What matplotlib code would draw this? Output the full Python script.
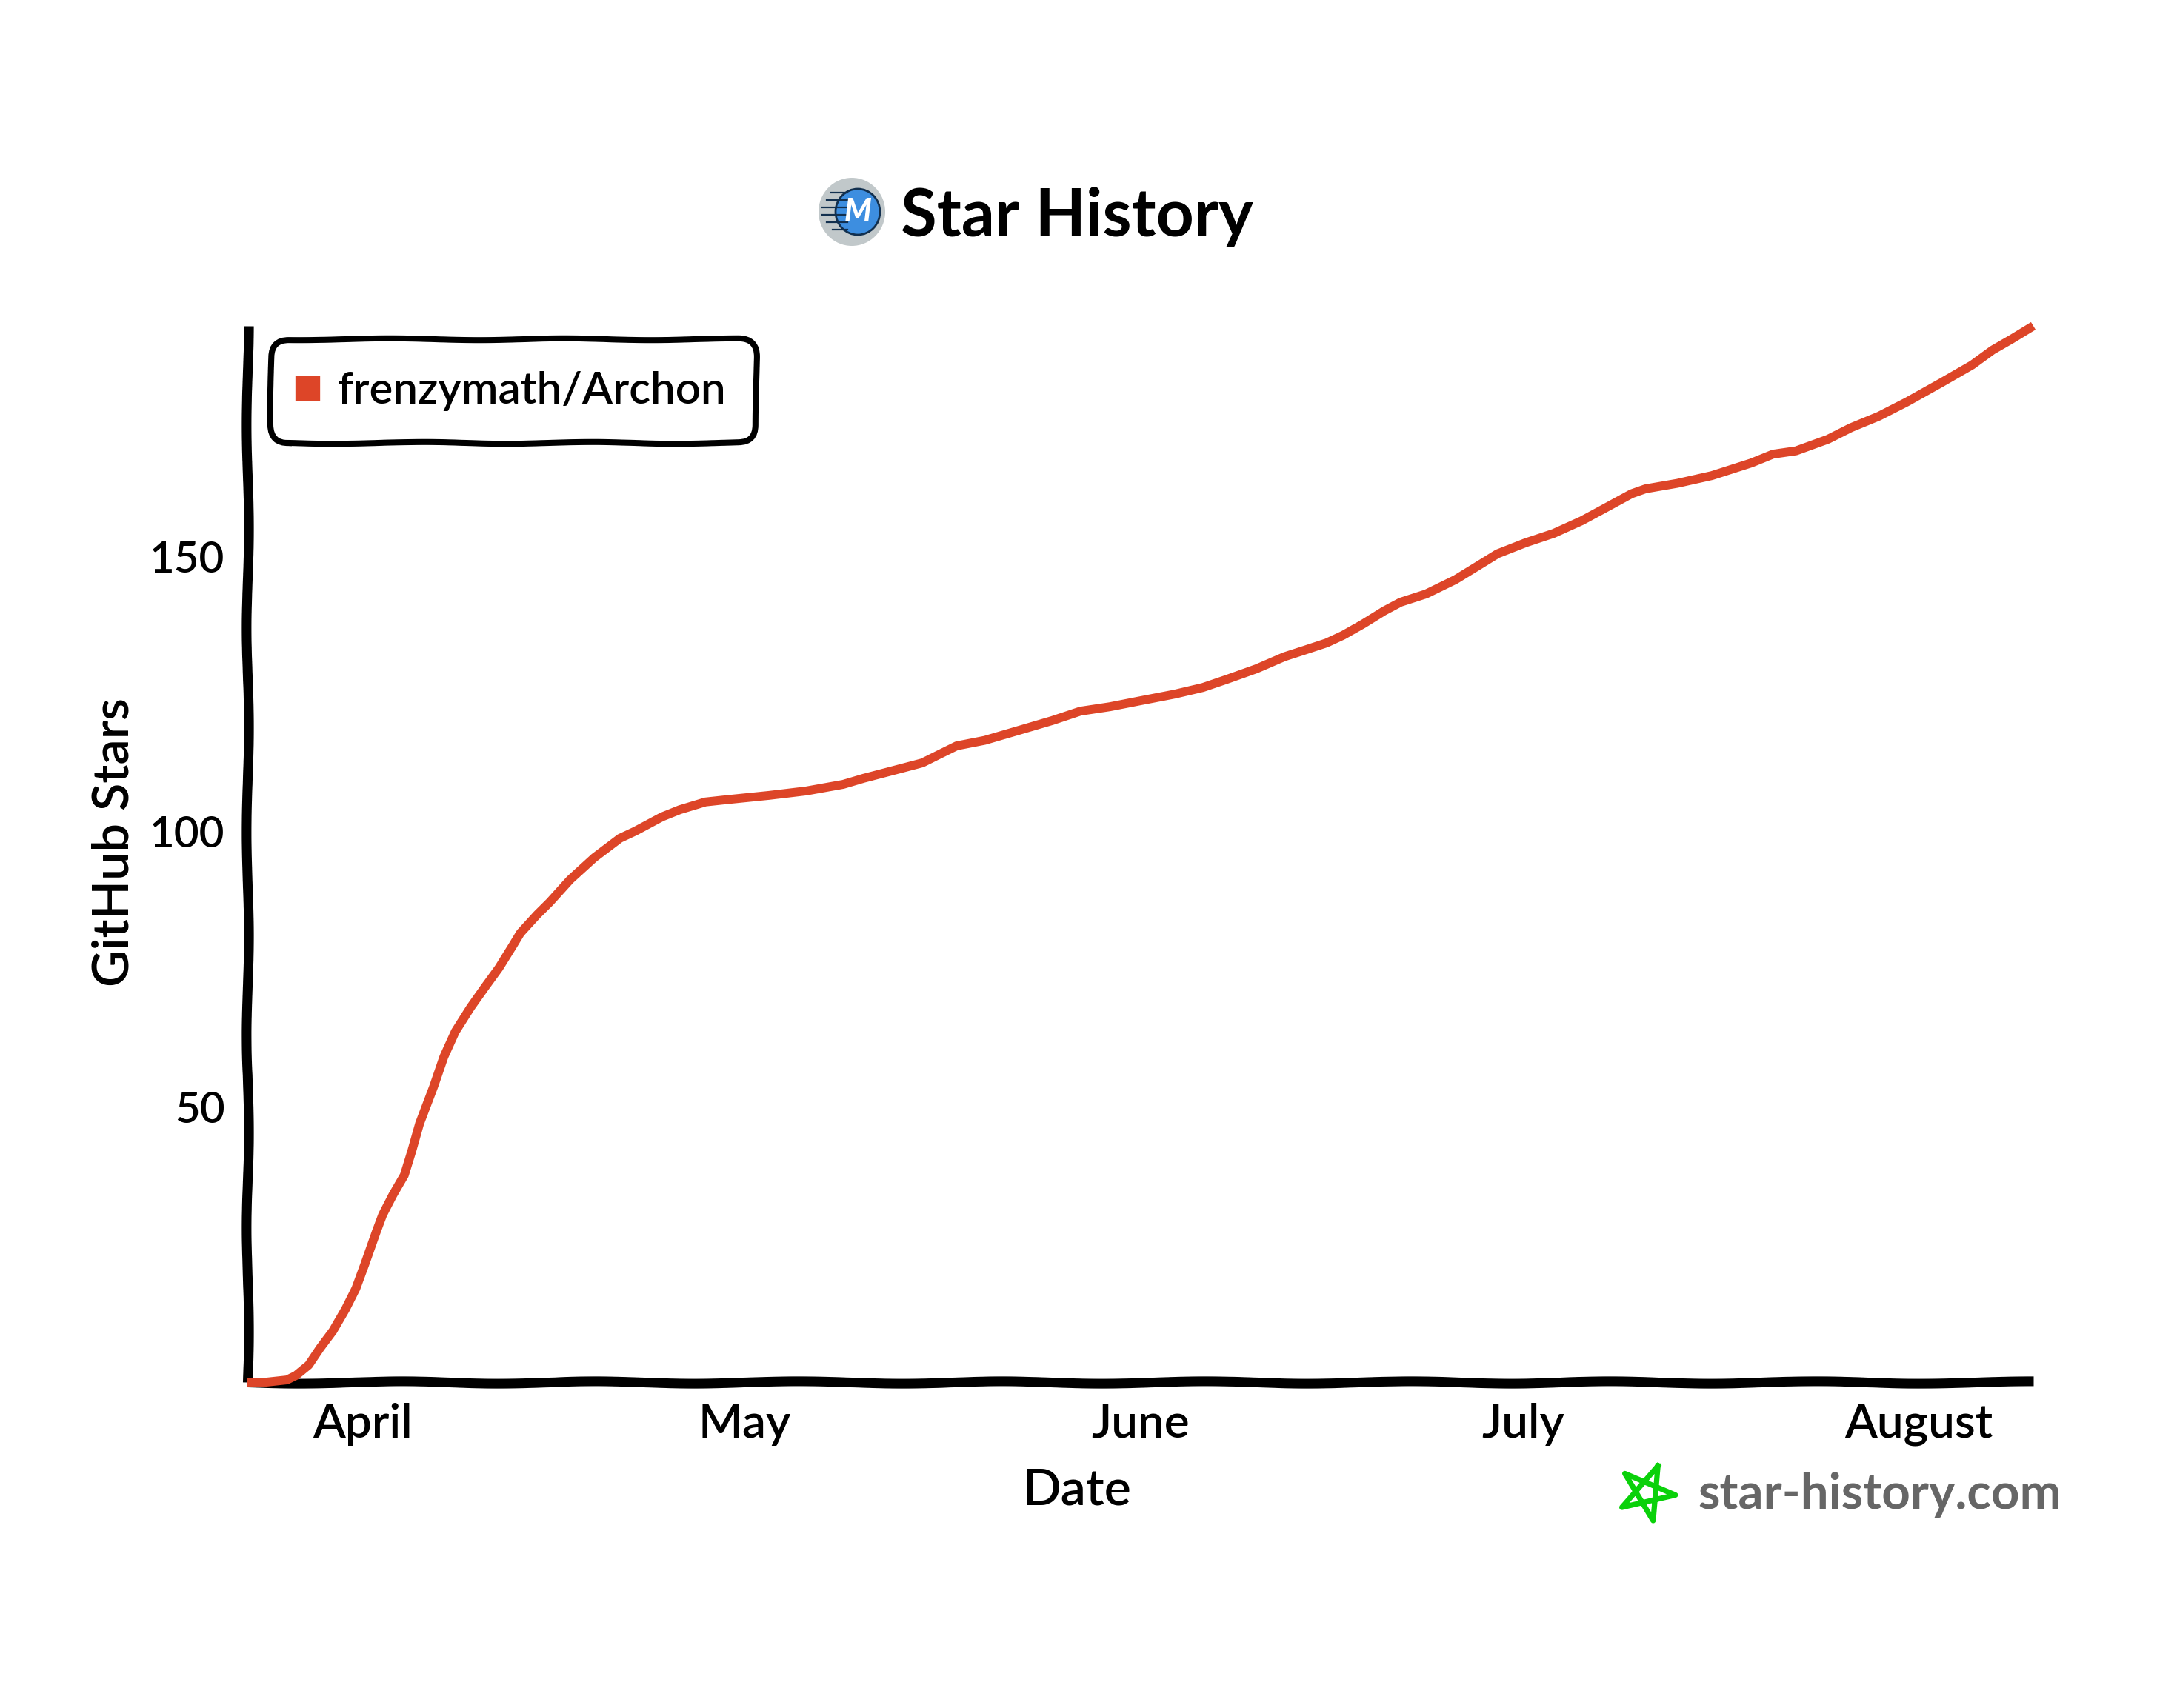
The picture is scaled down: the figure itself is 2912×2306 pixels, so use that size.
import numpy as np
import pandas as pd
import matplotlib
matplotlib.use("Agg")
import matplotlib.pyplot as plt
import matplotlib.dates as mdates
from matplotlib.lines import Line2D
from matplotlib.patches import Ellipse

FONT = "Lato"
plt.rcParams["font.family"] = [FONT, "DejaVu Sans"]

start_date = "2024-03-23"
days_since_start = [0, 1.5, 3.1, 3.8, 4.8, 5.7, 6.7, 7.7, 8.5, 9.2, 10.1, 10.6, 11.4, 12.3, 12.9,
                    13.5, 14.6, 15.4, 16.3, 17.5, 18.6, 19.7, 20.8, 21.4, 22.7, 23.7, 25.3, 27.2,
                    29.2, 30.4, 32.5, 33.9, 35.9, 37.5, 40.9, 43.8, 46.7, 48.3, 51.1, 52.9, 54.2,
                    55.6, 57.8, 60.9, 63.1, 65.3, 67.6, 69.8, 72.7, 74.9, 76.8, 79.1, 81.3, 82.9,
                    84.6, 85.9, 87.5, 89.1, 90.4, 92.4, 94.7, 96.6, 98.0, 100.2, 102.4, 104.6,
                    106.2, 108.5, 109.6, 112.1, 114.8, 117.9, 119.6, 121.4, 123.9, 125.7, 127.9,
                    130.1, 132.8, 135.2, 136.8, 138.3, 140.0]
stars = [0, 0, 0.4, 1.2, 3.1, 6.2, 9.3, 13.3, 17, 21.4, 27.3, 30.4, 34, 37.6, 42.1,
         47.0, 53.7, 59.1, 63.7, 68.1, 71.7, 75.2, 79.3, 81.6, 84.9, 87.2, 91.3, 95.3,
         98.8, 100.1, 102.7, 104.0, 105.4, 105.8, 106.6, 107.4, 108.6, 109.7, 111.4, 112.5, 114.0,
         115.6, 116.6, 118.7, 120.2, 121.9, 122.7, 123.7, 125.0, 126.2, 127.7, 129.6, 131.8, 133.0,
         134.3, 135.7, 137.8, 140.1, 141.7, 143.2, 145.8, 148.5, 150.5, 152.5, 154.2, 156.5,
         158.5, 161.4, 162.3, 163.3, 164.7, 167.0, 168.6, 169.2, 171.3, 173.4, 175.5,
         178.1, 181.6, 184.8, 187.5, 189.5, 191.9]
repo_name = "frenzymath/Archon"
month_ticks = ["2024-04-01", "2024-05-01", "2024-06-01", "2024-07-01", "2024-08-01"]
month_labels = ["April", "May", "June", "July", "August"]
y_ticks = [50, 100, 150]

W, H = 2912, 2306
L, R, B, T = 334, 2745, 1866, 440
TICK_FS = 23
WEIGHT = 600
fig = plt.figure(figsize=(W / 200, H / 200), dpi=200, facecolor="white")
ax = fig.add_axes([L / W, 1 - B / H, (R - L) / W, (B - T) / H])

dates = pd.Timestamp(start_date) + pd.to_timedelta(days_since_start, unit="D")
line, = ax.plot(dates, stars, color="#dd4528", lw=4.3, solid_capstyle="butt",
                solid_joinstyle="round", clip_on=False, zorder=5)

ax.set_xlim(pd.Timestamp(start_date), pd.Timestamp(start_date) + pd.Timedelta(days=140))
ax.set_ylim(0, 191.9)
ax.set_xticks(mdates.date2num(pd.to_datetime(month_ticks)))
ax.set_xticklabels(month_labels, fontsize=TICK_FS, fontweight=WEIGHT)
ax.set_yticks(y_ticks)
ax.set_yticklabels([str(v) for v in y_ticks], fontsize=21, fontweight=WEIGHT)
ax.tick_params(axis="x", length=0, pad=10)
ax.tick_params(axis="y", length=0, pad=11)

for name in ("top", "right"):
    ax.spines[name].set_visible(False)
for name in ("left", "bottom"):
    ax.spines[name].set_linewidth(4.7)
    ax.spines[name].set_capstyle("butt")
    ax.spines[name].set_sketch_params(1.6, 300, 2)

fig.text(1454 / W, 1 - 2013 / H, "Date", fontsize=24.5, fontweight=WEIGHT, ha="center", va="center")
fig.text(154 / W, 1 - 1137 / H, "GitHub Stars", fontsize=24.6, fontweight=WEIGHT,
         rotation=90, ha="center", va="center")

# title with logo
fig.text(1454 / W, 1 - 293 / H, "Star History", fontsize=32, fontweight="bold", ha="center", va="center")
fig.add_artist(Ellipse((1150 / W, 1 - 286 / H), 90 / W, 92 / H, fc="#c1c8ca", ec="none",
                       transform=fig.transFigure))
fig.add_artist(Ellipse((1158 / W, 1 - 286 / H), 60 / W, 62 / H, fc="#3d8ee0", ec="#12304f", lw=1.0,
                       transform=fig.transFigure))
for dy, x0 in [(-26, 1122), (-16, 1116), (-6, 1110), (4, 1110), (14, 1116), (24, 1124)]:
    fig.add_artist(Line2D([x0 / W, 1144 / W], [1 - (286 + dy) / H] * 2, color="#12304f", lw=0.8,
                          transform=fig.transFigure))
fig.text(1158 / W, 1 - 286 / H, "M", fontsize=15, fontweight="black", style="italic", color="white",
         ha="center", va="center")

# legend
handle = Line2D([], [], linestyle="none", marker="s", markersize=10.5, color="#dd4528",
                markeredgewidth=1.2, markeredgecolor="#dd4528")
handle.set_markeredgecolor("#dd4528")
leg = ax.legend([handle], [repo_name], loc="upper left",
                bbox_to_anchor=((366 - L) / (R - L), 1 - (458 - T) / (B - T), (1021 - 366) / (R - L), 0),
                mode="expand", prop={"family": [FONT, "DejaVu Sans"], "size": 21.6, "weight": WEIGHT},
                frameon=True, fancybox=True, borderpad=0.72, borderaxespad=0,
                handlelength=0.2, handletextpad=0.57, edgecolor="black", facecolor="white", framealpha=1)
frame = leg.get_frame()
frame.set_boxstyle("round", pad=0, rounding_size=0.4)
frame.set_linewidth(2.9)
frame.set_sketch_params(1.2, 260, 2)

# watermark
sx, sy, r = 2223, 2015, 39
angles = np.deg2rad(-67 + 144 * np.arange(6))
fig.add_artist(Line2D((sx + r * np.cos(angles)) / W, 1 - (sy + r * np.sin(angles)) / H,
                      color="#0ad10a", lw=2.6, solid_joinstyle="round", transform=fig.transFigure))
fig.text(2292 / W, 1 - 2018 / H, "star-history.com", color="#666666", fontsize=24.2, fontweight="bold",
         ha="left", va="center")

fig.savefig("out.png", dpi=200, facecolor="white")
